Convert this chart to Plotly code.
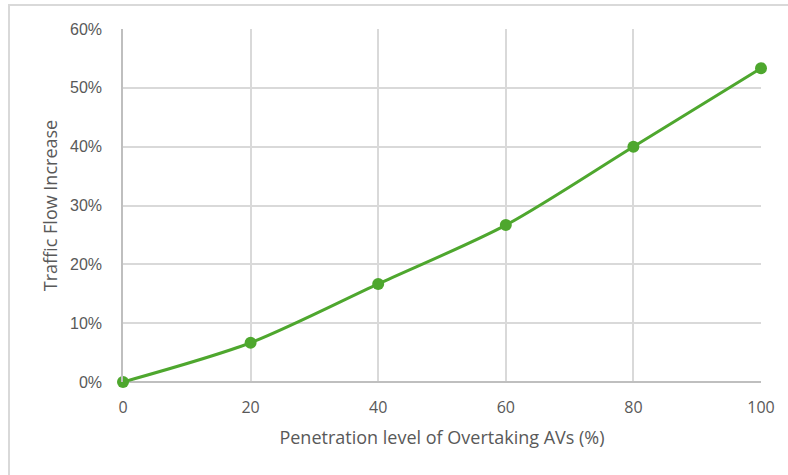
import plotly.graph_objects as go

# Penetration level of overtaking AVs (%) and resulting traffic flow increase
penetration = [0, 20, 40, 60, 80, 100]
flow_increase = [0.0, 0.0667, 0.1667, 0.2667, 0.40, 0.5333]

x_ticks = [0, 20, 40, 60, 80, 100]
y_ticks = [0, 0.1, 0.2, 0.3, 0.4, 0.5, 0.6]

GREEN = "#4EA72E"
GRID = "#D9D9D9"
TEXT = "#595959"

fig = go.Figure()
fig.add_trace(go.Scatter(
    x=penetration,
    y=flow_increase,
    mode="lines+markers",
    line=dict(color=GREEN, width=3, shape="spline", smoothing=0.8),
    marker=dict(color=GREEN, size=12),
    cliponaxis=False,
    showlegend=False,
))

W, H = 788, 475
ml, mr, mt, mb = 123, 27, 29, 93
pw, ph = W - ml - mr, H - mt - mb

# Chart-area frame (left and top edges visible)
fig.add_shape(
    type="rect", xref="paper", yref="paper",
    x0=(9 - ml) / pw, x1=(W + 20 - ml) / pw,
    y0=(H - mb - (H + 20)) / ph, y1=(H - mb - 5) / ph,
    line=dict(color=GRID, width=2), fillcolor="rgba(0,0,0,0)", layer="below",
)

fig.update_layout(
    width=W, height=H,
    margin=dict(l=ml, r=mr, t=mt, b=mb),
    paper_bgcolor="white", plot_bgcolor="white",
    xaxis=dict(
        range=[0, 100], tickvals=x_ticks, ticktext=[str(v) for v in x_ticks],
        showgrid=True, gridcolor=GRID, gridwidth=1.5,
        showline=False, zeroline=False,
        tickfont=dict(family="Open Sans", size=16, color=TEXT),
        ticks="", ticklabelstandoff=14,
        title=dict(text="Penetration level of Overtaking AVs (%)",
                   font=dict(family="Open Sans", size=18, color=TEXT), standoff=14),
    ),
    yaxis=dict(
        range=[0, 0.6], tickvals=y_ticks, tickformat=".0%",
        showgrid=True, gridcolor=GRID, gridwidth=1.5,
        showline=True, linecolor="#BFBFBF", linewidth=1.5,
        zeroline=True, zerolinecolor="#BFBFBF", zerolinewidth=1.5,
        tickfont=dict(family="Liberation Sans", size=16, color=TEXT),
        ticks="", ticklabelstandoff=16,
        title=dict(text="Traffic Flow Increase",
                   font=dict(family="Open Sans", size=18, color=TEXT), standoff=8),
    ),
)

fig.write_html("out.html")
